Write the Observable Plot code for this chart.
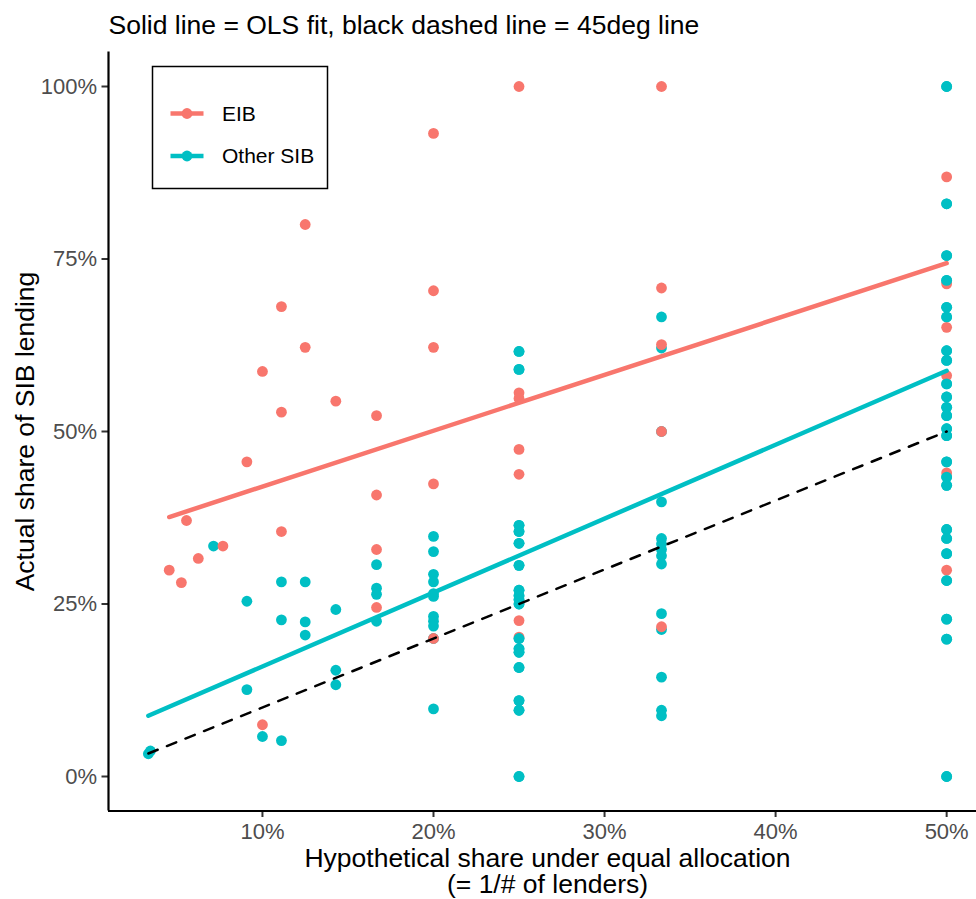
<!DOCTYPE html>
<html><head><meta charset="utf-8">
<script src="https://cdn.jsdelivr.net/npm/d3@7"></script>
<script src="https://cdn.jsdelivr.net/npm/@observablehq/plot@0.6"></script>
<style>
html,body{margin:0;padding:0;background:#fff;overflow:hidden;}
#chart{position:relative;width:976px;height:899px;overflow:hidden;}
</style></head><body><div id="chart"></div>
<script>
const titleText = "Solid line = OLS fit, black dashed line = 45deg line";
const xTitleLine1 = "Hypothetical share under equal allocation";
const xTitleLine2 = "(= 1/# of lenders)";
const yTitle = "Actual share of SIB lending";
const seriesNames = ["EIB", "Other SIB"];
const seriesColors = ["#F8766D", "#00BFC4"];

const xTicks = [0.1, 0.2, 0.3, 0.4, 0.5];
const xTickLabels = ["10%", "20%", "30%", "40%", "50%"];
const yTicks = [0, 0.25, 0.5, 0.75, 1];
const yTickLabels = ["0%", "25%", "50%", "75%", "100%"];

// EIB points
const eibX = [0.0455, 0.0526, 0.0556, 0.0625, 0.0769, 0.0909, 0.1, 0.1, 0.1111, 0.1111, 0.1111, 0.125, 0.125, 0.1429,
  0.1667, 0.1667, 0.1667, 0.1667, 0.2, 0.2, 0.2, 0.2, 0.2,
  0.25, 0.25, 0.25, 0.25, 0.25, 0.25, 0.25,
  0.3333, 0.3333, 0.3333, 0.3333, 0.3333,
  0.5, 0.5, 0.5, 0.5, 0.5, 0.5];
const eibY = [0.299, 0.281, 0.371, 0.316, 0.334, 0.456, 0.587, 0.075, 0.681, 0.528, 0.355, 0.800, 0.622, 0.544,
  0.523, 0.408, 0.329, 0.245, 0.932, 0.704, 0.622, 0.424, 0.200,
  1.0, 0.556, 0.548, 0.474, 0.438, 0.226, 0.202,
  1.0, 0.708, 0.626, 0.500, 0.217,
  0.869, 0.714, 0.651, 0.581, 0.440, 0.299];

// Other SIB points
const otherX = [0.0333, 0.0345, 0.0714, 0.0909, 0.0909, 0.1, 0.1111, 0.1111, 0.1111, 0.125, 0.125, 0.125, 0.1429, 0.1429, 0.1429,
  0.1667, 0.1667, 0.1667, 0.1667,
  0.2, 0.2, 0.2, 0.2, 0.2, 0.2, 0.2, 0.2, 0.2, 0.2, 0.2,
  0.25, 0.25, 0.25, 0.25, 0.25, 0.25, 0.25, 0.25, 0.25, 0.25, 0.25, 0.25, 0.25, 0.25, 0.25, 0.25, 0.25,
  0.3333, 0.3333, 0.3333, 0.3333, 0.3333, 0.3333, 0.3333, 0.3333, 0.3333, 0.3333, 0.3333, 0.3333, 0.3333, 0.3333,
  0.5, 0.5, 0.5, 0.5, 0.5, 0.5, 0.5, 0.5, 0.5, 0.5, 0.5, 0.5, 0.5, 0.5, 0.5, 0.5, 0.5, 0.5, 0.5, 0.5, 0.5, 0.5, 0.5, 0.5];
const otherY = [0.033, 0.037, 0.334, 0.254, 0.126, 0.058, 0.282, 0.227, 0.052, 0.282, 0.224, 0.205, 0.242, 0.154, 0.133,
  0.307, 0.273, 0.264, 0.225,
  0.348, 0.326, 0.293, 0.282, 0.265, 0.261, 0.232, 0.225, 0.218, 0.200, 0.098,
  0.616, 0.590, 0.364, 0.355, 0.338, 0.306, 0.270, 0.262, 0.256, 0.250, 0.200, 0.185, 0.180, 0.158, 0.110, 0.096, 0,
  0.666, 0.621, 0.500, 0.398, 0.345, 0.337, 0.329, 0.320, 0.308, 0.236, 0.213, 0.144, 0.096, 0.088,
  1.0, 0.830, 0.755, 0.719, 0.680, 0.666, 0.617, 0.603, 0.569, 0.550, 0.535, 0.523, 0.504, 0.494, 0.456, 0.434, 0.422, 0.358, 0.345, 0.323, 0.284, 0.228, 0.199, 0];

// OLS fit line endpoints
const eibFitX = [0.0455, 0.5];
const eibFitY = [0.376, 0.744];
const otherFitX = [0.0333, 0.5];
const otherFitY = [0.088, 0.588];
// 45 degree line
const diagX = [0.0333, 0.5];
const diagY = [0.0333, 0.5];

const eib = eibX.map((x, i) => ({x, y: eibY[i]}));
const other = otherX.map((x, i) => ({x, y: otherY[i]}));
const otherTop = other.filter(d => d.x === 0.25 || d.x === 0.5);
const eibFit = eibFitX.map((x, i) => ({x, y: eibFitY[i]}));
const otherFit = otherFitX.map((x, i) => ({x, y: otherFitY[i]}));
const diag = diagX.map((x, i) => ({x, y: diagY[i]}));

const R = 5.4;
const plot = Plot.plot({
  width: 976, height: 899,
  marginLeft: 108, marginRight: -10, marginTop: 51.5, marginBottom: 88.5,
  style: "font-family: 'Liberation Sans', Arial, sans-serif; font-size: 22px; background: white; overflow: visible;",
  x: {domain: [0.01, 0.5233]},
  y: {domain: [-0.05, 1.05]},
  marks: [
    Plot.axisX(xTicks, {tickFormat: d => xTickLabels[xTicks.indexOf(d)], tickSize: 6.5, tickPadding: 6, stroke: "#333333", strokeWidth: 2, fill: "#4D4D4D", fontSize: 22, label: null}),
    Plot.axisY(yTicks, {tickFormat: d => yTickLabels[yTicks.indexOf(d)], tickSize: 6.5, tickPadding: 5, stroke: "#333333", strokeWidth: 2, fill: "#4D4D4D", fontSize: 22, label: null}),
    Plot.ruleY([-0.05], {stroke: "black", strokeWidth: 2.2}),
    Plot.ruleX([0.01], {stroke: "black", strokeWidth: 2.2}),
    Plot.dot(other, {x: "x", y: "y", r: R, fill: seriesColors[1], stroke: "none"}),
    Plot.dot(eib, {x: "x", y: "y", r: R, fill: seriesColors[0], stroke: "none"}),
    Plot.dot(otherTop, {x: "x", y: "y", r: R, fill: seriesColors[1], stroke: "none"}),
    Plot.line(eibFit, {x: "x", y: "y", stroke: seriesColors[0], strokeWidth: 4.5}),
    Plot.line(otherFit, {x: "x", y: "y", stroke: seriesColors[1], strokeWidth: 4.5}),
    Plot.line(diag, {x: "x", y: "y", stroke: "black", strokeWidth: 2.5, strokeDasharray: "10,10"}),
    Plot.text([titleText], {frameAnchor: "top-left", textAnchor: "start", lineAnchor: "bottom", dy: -18.5, fontSize: 26.5, fill: "black"}),
    Plot.text([xTitleLine1], {frameAnchor: "bottom", textAnchor: "middle", lineAnchor: "top", dy: 37, fontSize: 26.5, fill: "black"}),
    Plot.text([xTitleLine2], {frameAnchor: "bottom", textAnchor: "middle", lineAnchor: "top", dy: 63, fontSize: 26.5, fill: "black"}),
    Plot.text([yTitle], {frameAnchor: "left", textAnchor: "middle", lineAnchor: "bottom", rotate: -90, dx: -75, fontSize: 26.5, fill: "black"})
  ]
});
document.getElementById("chart").appendChild(plot);

// legend box
const svg = d3.select(plot);
const lg = svg.append("g");
lg.append("rect").attr("x", 152.5).attr("y", 66.5).attr("width", 175).attr("height", 122)
  .attr("fill", "white").attr("stroke", "black").attr("stroke-width", 1.5);
seriesNames.forEach((name, i) => {
  const cy = 113.5 + i * 42.5;
  lg.append("line").attr("x1", 170.5).attr("x2", 203.5).attr("y1", cy).attr("y2", cy)
    .attr("stroke", seriesColors[i]).attr("stroke-width", 4.5);
  lg.append("circle").attr("cx", 187).attr("cy", cy).attr("r", R).attr("fill", seriesColors[i]);
  lg.append("text").attr("x", 222).attr("y", cy).attr("dy", "0.35em").attr("font-size", 21)
    .attr("text-anchor", "start").attr("fill", "black").text(name);
});
</script></body></html>
